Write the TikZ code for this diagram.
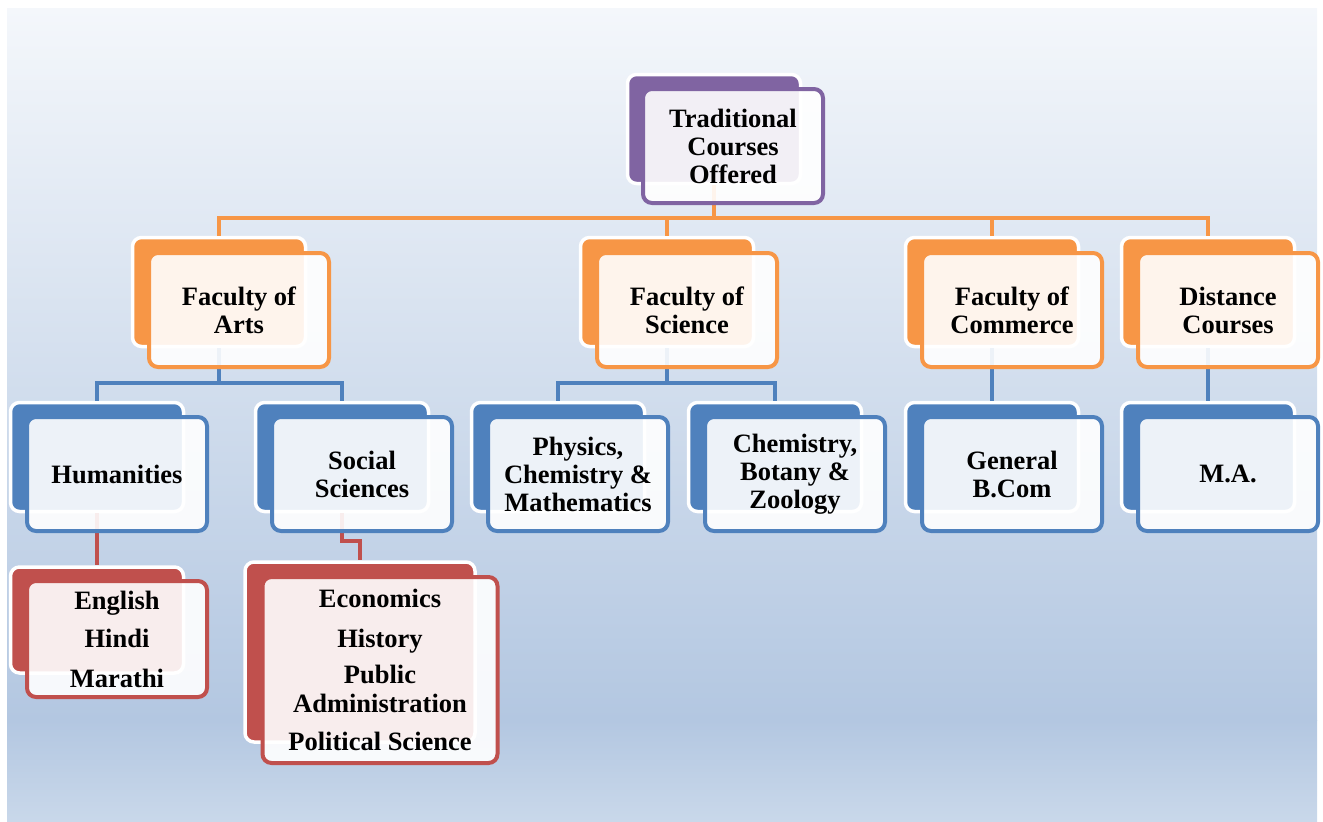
\documentclass[tikz,border=0pt]{standalone}
\usepackage{fontspec}
\setmainfont{Liberation Serif}
\usetikzlibrary{calc}
\definecolor{purp}{HTML}{8064A2}
\definecolor{oran}{HTML}{F79646}
\definecolor{blu}{HTML}{4F81BD}
\definecolor{rd}{HTML}{C0504D}
\definecolor{bgtop}{HTML}{F4F7FB}
\definecolor{bgmid}{HTML}{B3C7E1}
\definecolor{bgbot}{HTML}{C9D8EA}
\tikzset{backbox/.style = {draw=white, line width=3.5pt, rounded corners=9pt, fill=#1,
    minimum width=173pt, minimum height=109pt},
  frontbox/.style = {draw=#1, line width=4pt, rounded corners=9pt, fill=white,
    fill opacity=.9, text opacity=1, minimum width=180pt, minimum height=114pt,
    inner sep=0pt, align=center, font=\fontsize{26.5}{28}\selectfont\bfseries},
  link/.style = {draw=#1, line width=4pt}}

\begin{document}
\begin{tikzpicture}[x=1pt, y=-1pt]
  \useasboundingbox (0,0) rectangle (1323,822);
  \shade[top color=bgtop, bottom color=bgmid] (7,8) rectangle (1317,720);
  \shade[top color=bgmid, bottom color=bgbot] (7,720) rectangle (1317,822);
  % back plates
  \node[backbox=purp] (topb) at (714,129) {};
  \node[backbox=oran] (artsb) at (219,292) {};
  \node[backbox=oran] (scib) at (667,292) {};
  \node[backbox=oran] (comb) at (992,292) {};
  \node[backbox=oran] (distb) at (1208,292) {};
  \node[backbox=blu] (humb) at (97,457) {};
  \node[backbox=blu] (socb) at (342,457) {};
  \node[backbox=blu] (pcmb) at (558,457) {};
  \node[backbox=blu] (cbzb) at (775,457) {};
  \node[backbox=blu] (bcomb) at (992,457) {};
  \node[backbox=blu] (mab) at (1208,457) {};
  \node[backbox=rd, minimum height=106pt] (langb) at (97,620) {};
  \node[backbox=rd, minimum width=230pt, minimum height=180pt] (ecob) at (360,652) {};
  % links
  \coordinate (bus0) at (0,218);
  \coordinate (bus1) at (0,383);
  \coordinate (bus2) at (0,541);
  \foreach \n in {artsb,scib,comb,distb}
    \draw[link=oran] (topb.south) -- (topb |- bus0) -| (\n.north);
  \foreach \n in {humb,socb}
    \draw[link=blu] (artsb.south) -- (artsb |- bus1) -| (\n.north);
  \foreach \n in {pcmb,cbzb}
    \draw[link=blu] (scib.south) -- (scib |- bus1) -| (\n.north);
  \draw[link=blu] (comb.south) -- (bcomb.north);
  \draw[link=blu] (distb.south) -- (mab.north);
  \draw[link=rd] (humb.south) -- (langb.north);
  \draw[link=rd] (socb.south) -- (socb |- bus2) -| (ecob.north);
  % front plates
  \node[frontbox=purp] (top) at ([shift={(19,17)}]topb.center) {Traditional\\Courses\\Offered};
  \node[frontbox=oran] (arts) at ([shift={(20,18)}]artsb.center) {Faculty of\\Arts};
  \node[frontbox=oran] (sci) at ([shift={(20,18)}]scib.center) {Faculty of\\Science};
  \node[frontbox=oran] (com) at ([shift={(20,18)}]comb.center) {Faculty of\\Commerce};
  \node[frontbox=oran] (dist) at ([shift={(20,18)}]distb.center) {Distance\\Courses};
  \node[frontbox=blu] (hum) at ([shift={(20,17)}]humb.center) {Humanities};
  \node[frontbox=blu] (soc) at ([shift={(20,17)}]socb.center) {Social\\Sciences};
  \node[frontbox=blu] (pcm) at ([shift={(20,17)}]pcmb.center) {Physics,\\Chemistry \&\\Mathematics};
  \node[frontbox=blu] (cbz) at ([shift={(20,17)}]cbzb.center) {Chemistry,\\Botany \&\\Zoology};
  \node[frontbox=blu] (bcom) at ([shift={(20,17)}]bcomb.center) {General\\B.Com};
  \node[frontbox=blu] (ma) at ([shift={(20,17)}]mab.center) {M.A.};
  \node[frontbox=rd, minimum height=116pt] (lang) at ([shift={(20,19)}]langb.center)
    {English\\[10pt]Hindi\\[12pt]Marathi};
  \node[frontbox=rd, minimum width=235pt, minimum height=186pt] (eco) at ([shift={(20,18)}]ecob.center)
    {Economics\\[12pt]History\\[8pt]Public\\[1pt]Administration\\[10pt]Political Science};
\end{tikzpicture}
\end{document}
